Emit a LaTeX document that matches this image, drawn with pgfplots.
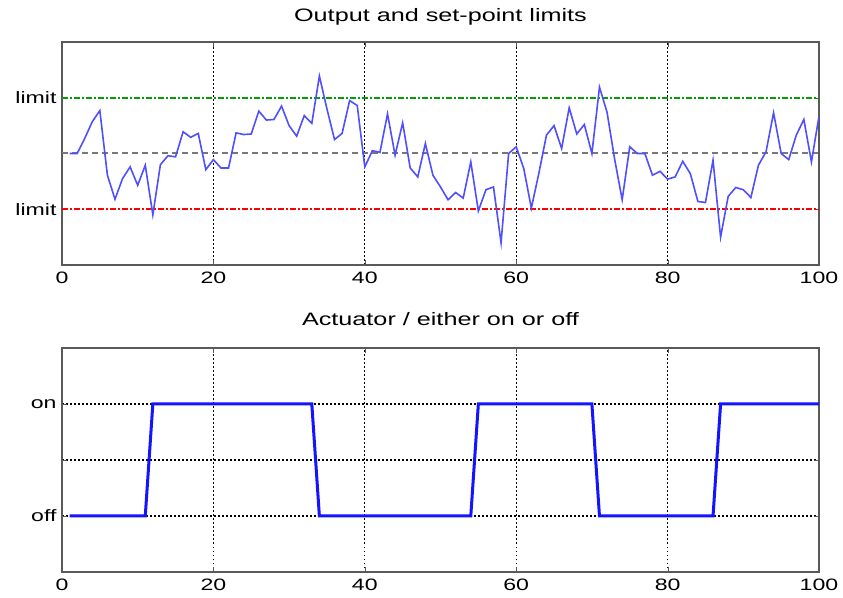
\documentclass[border=0pt]{standalone}
\usepackage{fontspec}
\setmainfont[FakeStretch=1.4]{Liberation Sans}
\usepackage{pgfplots}
\pgfplotsset{compat=1.18}
\definecolor{mlgreen}{RGB}{0,160,0}
\definecolor{mlred}{RGB}{255,0,0}
\definecolor{mlgray}{RGB}{120,120,120}
\definecolor{mlblue}{RGB}{20,20,255}
\pgfplotsset{
  myax/.style={
    scale only axis, width=757pt,
    xmin=0, xmax=100,
    xtick={0,20,40,60,80,100},
    xmajorgrids=true,
    grid style={black, line width=1.2pt, dash pattern=on 1.5pt off 2.5pt},
    axis line style={black!65, line width=1.2pt},
    tick align=inside, major tick length=5pt,
    tick style={black!65},
    /pgf/number format/assume math mode=true,
    ticklabel style={font=\fontsize{16.5}{18}\selectfont},
    xticklabel style={yshift=-3pt},
    yticklabel style={xshift=-2pt},
    title style={at={(0.5,1)}, anchor=base, font=\fontsize{18}{20}\selectfont},
  }
}
\begin{document}
\begin{tikzpicture}[x=1pt,y=1pt]
\useasboundingbox (0,0) rectangle (843,597);
\begin{axis}[myax, at={(62pt,332pt)}, anchor=south west,
  height=223pt, ymin=-2, ymax=2,
  ytick={-1,1}, yticklabels={limit,limit},
  title={Output and set-point limits}, title style={yshift=14pt}]
\addplot[mlgreen, line width=2pt, dash pattern=on 6pt off 2pt on 2pt off 2pt] coordinates {(0,1) (100,1)};
\addplot[mlred, line width=2pt, dash pattern=on 6pt off 2pt on 2pt off 2pt] coordinates {(0,-1) (100,-1)};
\addplot[mlgray, line width=2pt, dash pattern=on 6pt off 4pt] coordinates {(0,0) (100,0)};
\addplot[mlblue!75!white, line width=1.6pt] table {
x y
1 0
2 0
3 0.27
4 0.57
5 0.77
6 -0.39
7 -0.82
8 -0.45
9 -0.24
10 -0.57
11 -0.21
12 -1.1
13 -0.2
14 -0.04
15 -0.06
16 0.39
17 0.29
18 0.36
19 -0.29
20 -0.11
21 -0.26
22 -0.26
23 0.37
24 0.34
25 0.35
26 0.76
27 0.6
28 0.61
29 0.85
30 0.5
31 0.31
32 0.68
33 0.54
34 1.39
35 0.8
36 0.25
37 0.36
38 0.95
39 0.86
40 -0.24
41 0.05
42 0.02
43 0.71
44 -0.03
45 0.55
46 -0.26
47 -0.42
48 0.18
49 -0.39
50 -0.6
51 -0.83
52 -0.7
53 -0.8
54 -0.15
55 -1.03
56 -0.65
57 -0.6
58 -1.6
59 0
60 0.12
61 -0.27
62 -0.98
63 -0.35
64 0.33
65 0.5
66 0.09
67 0.82
68 0.35
69 0.52
70 0
71 1.19
72 0.74
73 -0.1
74 -0.83
75 0.12
76 0.0
77 0.0
78 -0.39
79 -0.32
80 -0.46
81 -0.42
82 -0.14
83 -0.36
84 -0.86
85 -0.88
86 -0.12
87 -1.5
88 -0.77
89 -0.61
90 -0.65
91 -0.79
92 -0.21
93 0.03
94 0.73
95 0
96 -0.11
97 0.33
98 0.61
99 -0.15
100 0.67
};
\end{axis}
\begin{axis}[myax, at={(62pt,25pt)}, anchor=south west,
  height=224pt, ymin=-0.5, ymax=1.5,
  ytick={0,0.5,1}, yticklabels={off,,on}, ymajorgrids=true,
  title={Actuator / either on or off}, title style={yshift=16pt}]
\addplot[mlblue, line width=3pt] table {
x y
1 0
11 0
12 1
33 1
34 0
54 0
55 1
70 1
71 0
86 0
87 1
100 1
};
\end{axis}
\end{tikzpicture}
\end{document}
